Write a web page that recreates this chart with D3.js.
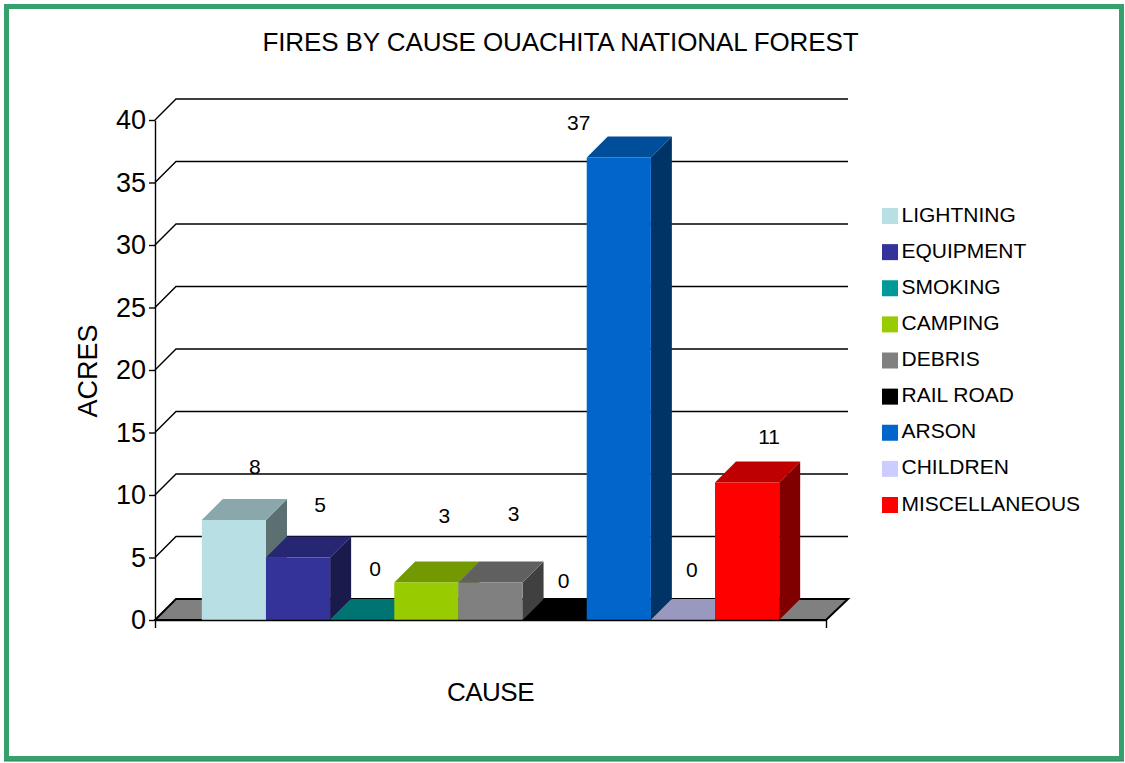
<!DOCTYPE html>
<html>
<head>
<meta charset="utf-8">
<script src="https://cdn.jsdelivr.net/npm/d3@7"></script>
<style>
  html, body { margin: 0; padding: 0; background: #fff; }
  svg { display: block; }
  text { font-family: "Liberation Sans", Arial, sans-serif; fill: #000; }
</style>
</head>
<body>
<div id="chart"></div>
<script>
const causes = ['LIGHTNING', 'EQUIPMENT', 'SMOKING', 'CAMPING', 'DEBRIS', 'RAIL ROAD', 'ARSON', 'CHILDREN', 'MISCELLANEOUS']
const acres = [8, 5, 0, 3, 3, 0, 37, 0, 11]
const colors = ['#b8e0e4', '#333399', '#009999', '#99cc00', '#808080', '#000000', '#0066cc', '#ccccff', '#ff0000']
const yTicks = [0, 5, 10, 15, 20, 25, 30, 35, 40]

// the data labels float around in the original, offsets from the bar's front top centre
const labelDx = [21, 22, 13, 18, 23, 9, -40, 9, 22]
const labelDy = [-54, -53, -52, -67, -69, -40, -35, -51, -46]

const chartW = 1125, chartH = 763
const depth = 21
const plotLeft = 155, plotRight = 826, plotBottom = 620, plotTop = 120

const svg = d3.select('#chart').append('svg')
  .attr('width', chartW)
  .attr('height', chartH)

// frame
svg.append('rect').attr('x', 0).attr('y', 0).attr('width', chartW).attr('height', chartH).attr('fill', '#fff')
svg.append('rect')
  .attr('x', 6.5).attr('y', 6.5).attr('width', 1115).attr('height', 752)
  .attr('fill', 'none')
  .attr('stroke', '#38a06c')
  .attr('stroke-width', 5)
svg.append('line')
  .attr('x1', 4).attr('x2', 1124).attr('y1', 761).attr('y2', 761)
  .attr('stroke', '#2c8055')
  .attr('stroke-width', 1)

const x = d3.scaleBand().domain(causes).range([plotLeft, plotRight]).paddingInner(0).paddingOuter(0.73)
const y = d3.scaleLinear().domain([0, 40]).range([plotBottom, plotTop])

const shade = (c, k) => {
  const r = d3.rgb(c)
  return d3.rgb(r.r * k, r.g * k, r.b * k).formatHex()
}

// floor
svg.append('polygon')
  .attr('points', [[plotLeft, plotBottom], [plotLeft + depth, plotBottom - depth], [plotRight + depth + 1, plotBottom - depth], [plotRight, plotBottom]].join(' '))
  .attr('fill', '#808080')
  .attr('stroke', '#000')
  .attr('stroke-width', 2)

// back wall lines
svg.selectAll('.grid')
  .data(yTicks.slice(1))
  .enter()
  .append('path')
  .attr('class', 'grid')
  .attr('d', d => `M${plotLeft},${y(d)}L${plotLeft + depth},${y(d) - depth}H${plotRight + depth + 1}`)
  .attr('fill', 'none')
  .attr('stroke', '#000')
  .attr('stroke-width', 1.4)

// bars, side and top first so the front covers them
const bar = svg.selectAll('.bar')
  .data(causes)
  .enter()
  .append('g')
  .attr('class', 'bar')

const bw = x.bandwidth()
bar.append('polygon')
  .attr('points', (d, i) => {
    const x1 = x(d) + bw, yt = y(acres[i])
    return [[x1, yt], [x1 + depth, yt - depth], [x1 + depth, plotBottom - depth], [x1, plotBottom]].join(' ')
  })
  .attr('fill', (d, i) => shade(colors[i], 0.5))
bar.append('polygon')
  .attr('points', (d, i) => {
    const x0 = x(d), yt = y(acres[i])
    return [[x0, yt], [x0 + depth, yt - depth], [x0 + bw + depth, yt - depth], [x0 + bw, yt]].join(' ')
  })
  .attr('fill', (d, i) => shade(colors[i], 0.75))
bar.append('rect')
  .attr('x', d => x(d))
  .attr('y', (d, i) => y(acres[i]))
  .attr('width', bw)
  .attr('height', (d, i) => plotBottom - y(acres[i]))
  .attr('fill', (d, i) => colors[i])

// axes
const yAxis = svg.append('g')
  .attr('transform', `translate(${plotLeft},0)`)
  .call(d3.axisLeft(y).tickValues(yTicks).tickSize(6).tickSizeOuter(0).tickPadding(3))
yAxis.attr('font-family', null)
yAxis.selectAll('path, line').attr('stroke', '#000').attr('stroke-width', 1.4)
yAxis.selectAll('text').attr('font-size', 27)

const xEnds = d3.scaleLinear().domain([0, 1]).range([plotLeft, plotRight])
const xAxis = svg.append('g')
  .attr('transform', `translate(0,${plotBottom})`)
  .call(d3.axisBottom(xEnds).tickValues([0, 1]).tickSize(8).tickSizeOuter(0).tickFormat(''))
xAxis.selectAll('path, line').attr('stroke', '#000').attr('stroke-width', 1.4)

// value labels
svg.selectAll('.value')
  .data(acres)
  .enter()
  .append('text')
  .attr('class', 'value')
  .attr('x', (d, i) => x(causes[i]) + bw / 2 + labelDx[i])
  .attr('y', (d, i) => y(d) + labelDy[i])
  .attr('text-anchor', 'middle')
  .attr('dominant-baseline', 'central')
  .attr('font-size', 21)
  .text(d => d)

// titles
svg.append('text')
  .attr('x', 560.5).attr('y', 51)
  .attr('text-anchor', 'middle')
  .attr('font-size', 26)
  .style('letter-spacing', '-0.1px')
  .text('FIRES BY CAUSE OUACHITA NATIONAL FOREST')
svg.append('text')
  .attr('x', 490.5).attr('y', 701)
  .attr('text-anchor', 'middle')
  .attr('font-size', 26)
  .style('letter-spacing', '-0.5px')
  .text('CAUSE')
svg.append('text')
  .attr('transform', 'translate(97,371) rotate(-90)')
  .attr('text-anchor', 'middle')
  .attr('font-size', 27)
  .text('ACRES')

// legend
const legendY = d3.scalePoint().domain(causes).range([216, 505])
const legend = svg.selectAll('.legend')
  .data(causes)
  .enter()
  .append('g')
  .attr('class', 'legend')
  .attr('transform', d => `translate(882,${legendY(d)})`)
legend.append('rect')
  .attr('x', 0).attr('y', -8).attr('width', 16).attr('height', 16)
  .attr('fill', (d, i) => colors[i])
legend.append('text')
  .attr('x', 19.5).attr('y', 5.5)
  .attr('font-size', 21)
  .text(d => d)
</script>
</body>
</html>
